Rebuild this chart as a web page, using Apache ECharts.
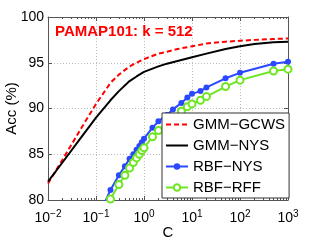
<!DOCTYPE html>
<html><head><meta charset="utf-8">
<script src="https://cdn.jsdelivr.net/npm/echarts@6/dist/echarts.min.js"></script>
<style>html,body{margin:0;padding:0;background:#fff}#c{width:319px;height:240px}</style>
</head><body><div id="c"></div>
<script>
// ---- data ----
const xTickExp = ['\u22122', '\u22121', '0', '1', '2', '3'];
const yTicks = [80, 85, 90, 95, 100];
const titleText = 'PAMAP101: k = 512';
const seriesNames = ['GMM\u2212GCWS', 'GMM\u2212NYS', 'RBF\u2212NYS', 'RBF\u2212RFF'];

const cGmm = [0.01, 0.02, 0.05, 0.1, 0.2, 0.3, 0.5, 0.7, 1, 2, 3, 5, 10, 20, 50, 100, 200, 500, 1000];
const gmmGcws = [81.8, 84.4, 87.9, 90.5, 92.8, 93.7, 94.6, 95.0, 95.4, 96.0, 96.2, 96.5, 96.8, 97.1, 97.3, 97.4, 97.5, 97.6, 97.65];
const gmmNys = [82.0, 84.1, 86.9, 89.0, 90.9, 91.9, 93.0, 93.5, 94.0, 94.6, 94.9, 95.2, 95.6, 96.0, 96.5, 96.8, 97.05, 97.25, 97.3];

const cRbf = [0.1, 0.2, 0.3, 0.4, 0.5, 0.6, 0.7, 0.8, 0.9, 1, 1.5, 2, 3, 4, 6, 8, 10, 15, 20, 50, 100, 500, 1000];
const rbfNys = [77.6, 81.1, 82.7, 83.7, 84.5, 85.0, 85.5, 85.9, 86.3, 86.7, 87.9, 88.6, 89.3, 89.9, 90.6, 91.2, 91.6, 91.9, 92.3, 93.3, 93.9, 94.9, 95.1];
const rbfRff = [76.5, 80.1, 81.7, 82.7, 83.5, 84.1, 84.6, 85.0, 85.4, 85.7, 86.9, 87.6, 88.5, 89.0, 89.7, 90.2, 90.5, 90.9, 91.3, 92.4, 93.1, 94.1, 94.3];

const minorTicks = [];
for (let e = -2; e < 3; e++) for (let m = 2; m <= 9; m++) minorTicks.push(+(m * Math.pow(10, e)).toPrecision(6));

const pairs = (xs, ys) => xs.map((x, i) => [x, ys[i]]);
const FONT = '"Liberation Sans", Arial, sans-serif';
const AX = '#555';

const chart = echarts.init(document.getElementById('c'), null, {renderer: 'canvas'});
const baseX = {type: 'log', logBase: 10, min: 0.01, max: 1000, gridIndex: 0};
chart.setOption({
  animation: false,
  backgroundColor: '#fff',
  textStyle: {fontFamily: FONT},
  grid: {left: 48, top: 17, right: 31, bottom: 40, containLabel: false, outerBoundsMode: 'none'},
  title: {text: titleText, left: 55, top: 24, padding: 0,
    textStyle: {color: '#ff0000', fontWeight: 'bold', fontSize: 15, fontFamily: FONT}},
  legend: {
    orient: 'vertical', left: 162, top: 113, itemWidth: 22, itemHeight: 8, itemGap: 6,
    padding: [4, 4, 3, 3], backgroundColor: '#fff', borderColor: '#333', borderWidth: 1, borderRadius: 0,
    textStyle: {fontSize: 15, color: '#000', fontFamily: FONT, padding: [0, 0, 0, 0]},
    data: [
      {name: seriesNames[0], itemStyle: {color: 'rgba(0,0,0,0)', borderWidth: 0}},
      {name: seriesNames[1], itemStyle: {color: 'rgba(0,0,0,0)', borderWidth: 0}},
      {name: seriesNames[2]},
      {name: seriesNames[3]}
    ]
  },
  xAxis: [
    Object.assign({}, baseX, {
      position: 'bottom',
      axisLine: {show: true, onZero: false, lineStyle: {color: AX, width: 1}},
      axisTick: {show: true, inside: true, length: 4, lineStyle: {color: AX}},
      axisLabel: {
        margin: 9, color: '#000', align: 'center',
        formatter: v => '{b|10}{s|' + xTickExp[Math.round(Math.log10(v)) + 2] + '}',
        rich: {b: {fontSize: 14, fontFamily: FONT, color: '#000'},
               s: {fontSize: 10, fontFamily: FONT, color: '#000', padding: [0, 0, 8, 0]}}
      },
      splitLine: {show: true, lineStyle: {color: '#bbb', type: [1, 2], width: 1}},
      name: 'C', nameLocation: 'middle', nameGap: 25, nameMoveOverlap: false,
      nameTextStyle: {fontSize: 15, color: '#000', fontFamily: FONT}
    }),
    Object.assign({}, baseX, {
      position: 'top',
      axisLine: {show: true, onZero: false, lineStyle: {color: AX, width: 1}},
      axisTick: {show: true, inside: true, length: 4, lineStyle: {color: AX}},
      axisLabel: {show: false}, splitLine: {show: false}
    }),
    Object.assign({}, baseX, {
      position: 'bottom',
      axisLine: {show: false},
      axisTick: {show: true, inside: true, length: 2, customValues: minorTicks, lineStyle: {color: AX}},
      axisLabel: {show: false}, splitLine: {show: false}
    }),
    Object.assign({}, baseX, {
      position: 'top',
      axisLine: {show: false},
      axisTick: {show: true, inside: true, length: 2, customValues: minorTicks, lineStyle: {color: AX}},
      axisLabel: {show: false}, splitLine: {show: false}
    })
  ],
  yAxis: [
    {type: 'value', min: yTicks[0], max: yTicks[yTicks.length - 1], interval: 5, position: 'left',
     axisLine: {show: true, onZero: false, lineStyle: {color: AX, width: 1}},
     axisTick: {show: true, inside: true, length: 4, lineStyle: {color: AX}},
     axisLabel: {fontSize: 14, color: '#000', margin: 4, fontFamily: FONT},
     splitLine: {show: true, lineStyle: {color: '#bbb', type: [1, 2], width: 1}},
     name: 'Acc (%)', nameLocation: 'middle', nameGap: 29, nameRotate: 90, nameMoveOverlap: false,
     nameTextStyle: {fontSize: 15, color: '#000', fontFamily: FONT}},
    {type: 'value', min: yTicks[0], max: yTicks[yTicks.length - 1], interval: 5, position: 'right',
     axisLine: {show: true, onZero: false, lineStyle: {color: AX, width: 1}},
     axisTick: {show: true, inside: true, length: 4, lineStyle: {color: AX}},
     axisLabel: {show: false}, splitLine: {show: false}}
  ],
  series: [
    {name: seriesNames[0], type: 'line', data: pairs(cGmm, gmmGcws), symbol: 'none', smooth: false,
     lineStyle: {color: '#ff0000', width: 2, type: [5, 3]}, itemStyle: {color: '#ff0000'}, z: 3},
    {name: seriesNames[1], type: 'line', data: pairs(cGmm, gmmNys), symbol: 'none', smooth: false,
     lineStyle: {color: '#000', width: 2}, itemStyle: {color: '#000'}, z: 3},
    {name: seriesNames[2], type: 'line', data: pairs(cRbf, rbfNys), symbol: 'circle', symbolSize: 6,
     lineStyle: {color: '#2a48ff', width: 2}, itemStyle: {color: '#2a48ff'}, z: 3},
    {name: seriesNames[3], type: 'line', data: pairs(cRbf, rbfRff), symbol: 'emptyCircle', symbolSize: 7,
     lineStyle: {color: '#6ee622', width: 2}, itemStyle: {color: '#6ee622', borderWidth: 1.5}, z: 3}
  ]
});
</script></body></html>
